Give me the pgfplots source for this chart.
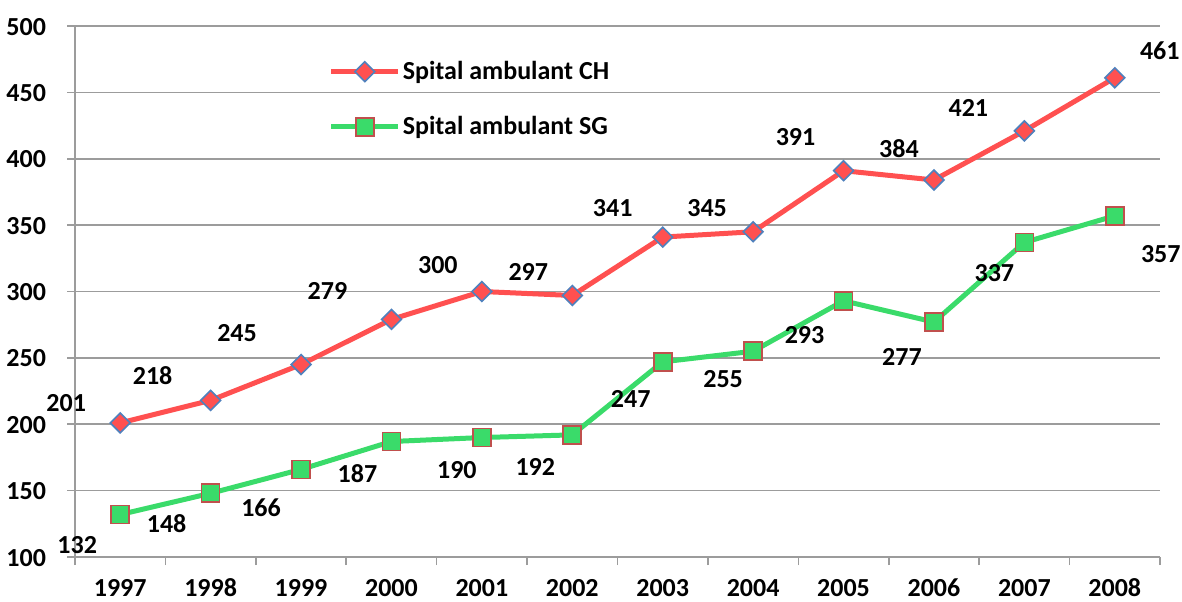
\documentclass[border=0pt]{standalone}
\usepackage{pgfplots}
\pgfplotsset{compat=1.18}
\usepackage{pgfplotstable}
\usepackage{fontspec}
\setmainfont{Carlito}
\definecolor{chred}{HTML}{FF5050}
\definecolor{chblue}{HTML}{4F81BD}
\definecolor{sggreen}{HTML}{3ADB6A}
\definecolor{sgedge}{HTML}{C0504D}
\definecolor{gridgray}{HTML}{9C9C9C}
\pgfplotstableread{
x y dx dy
0 201 -27 10
1 218 -29 12.5
2 245 -32 15.5
3 279 -32 14
4 300 -22 13
5 297 -22 12
6 341 -25 14.75
7 345 -23 12
8 391 -24 17
9 384 -17.5 15.5
10 421 -28 11.5
11 461 22.5 13.5
}\ch
\pgfplotstableread{
x y dx dy
0 132 -21.5 -15.5
1 148 -22 -15
2 166 -20 -19
3 187 -17 -16
4 190 -12.5 -16.5
5 192 -18.5 -16
6 247 -16 -18.5
7 255 -15 -14
8 293 -19.5 -17
9 277 -16 -17.5
10 337 -15 -15.5
11 357 23 -19
}\sg
\begin{document}
\begin{tikzpicture}
\useasboundingbox (-37.5pt,-22pt) rectangle (553.5pt,278.5pt);
\begin{axis}[
  at={(0,0)}, anchor=south west,
  scale only axis, width=542.5pt, height=265.5pt,
  xmin=-0.5, xmax=11.5, ymin=100, ymax=500,
  ytick={100,150,...,500},
  yticklabels={100,150,200,250,300,350,400,450,500},
  xtick={0,...,11},
  xticklabels={1997,1998,1999,2000,2001,2002,2003,2004,2005,2006,2007,2008},
  minor xtick={-0.5,0.5,...,11.5},
  major x tick style={draw=none},
  minor tick length=4pt,
  major tick length=4pt,
  tick align=outside,
  axis x line*=bottom, axis y line*=left,
  axis line style={gridgray, line width=0.8pt},
  every tick/.style={gridgray, line width=0.8pt},
  ymajorgrids, grid style={gridgray, line width=0.8pt},
  /pgf/number format/assume math mode=true,
  ticklabel style={font=\fontsize{13}{15}\selectfont\bfseries},
  yticklabel style={xshift=-7pt, anchor=east, text height=9pt, text depth=0pt},
  xticklabel style={yshift=-3pt, anchor=north, text height=9pt, text depth=0pt},
  legend style={at={(0.228,0.946)}, anchor=north west, draw=none, fill=none,
    font=\fontsize{13}{15}\selectfont\bfseries, row sep=15pt,
    nodes={inner sep=1pt}},
  legend cell align=left,
  legend image code/.code={\draw[#1, mark repeat=2, mark phase=2] plot coordinates {(0pt,0pt) (16.75pt,0pt) (33.5pt,0pt)};},
  clip=false,
  nodes near coords,
  visualization depends on={\thisrow{dx} \as \dx},
  visualization depends on={\thisrow{dy} \as \dy},
  every node near coord/.style={anchor=center, xshift=\dx pt, yshift=\dy pt,
    font=\fontsize{13}{15}\selectfont\bfseries, text=black},
]
\addplot[chred, line width=2.5pt, mark=square*, mark size=3.5pt,
  mark options={rotate=45, fill=chred, draw=chblue, line width=0.8pt}] table[x=x,y=y] {\ch};
\addlegendentry{Spital ambulant CH}
\addplot[sggreen, line width=2.5pt, mark=square*, mark size=4.5pt,
  mark options={fill=sggreen, draw=sgedge, line width=0.8pt}] table[x=x,y=y] {\sg};
\addlegendentry{Spital ambulant SG}
\end{axis}
\end{tikzpicture}
\end{document}
